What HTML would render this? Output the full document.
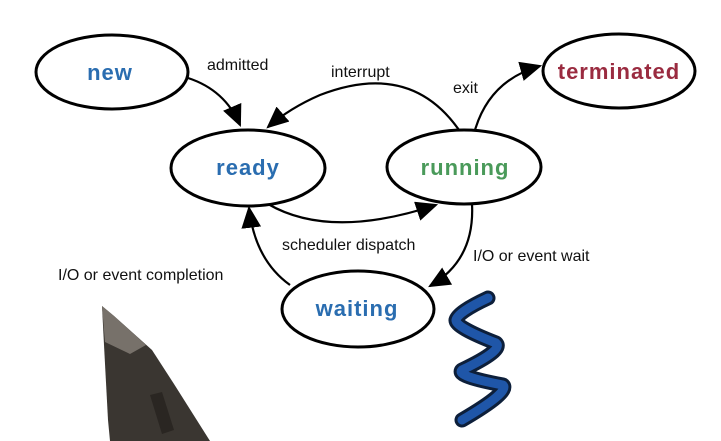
<!DOCTYPE html>
<html><head><style>
body{margin:0;background:#fff;}
svg{display:block;}
text{font-family:"Liberation Sans",sans-serif;}
</style></head><body>
<svg width="721" height="441" viewBox="0 0 721 441" xmlns="http://www.w3.org/2000/svg">
<defs>
<marker id="a" markerWidth="10" markerHeight="9" refX="9" refY="4.5" orient="auto" markerUnits="strokeWidth">
<path d="M0,0 L10,4.5 L0,9 z" fill="#000"/>
</marker>
</defs>
<rect width="721" height="441" fill="#fff"/>
<path d="M102,306 L114,316 L152,350 L174,384 L210,441 L110,441 L108,420 L104,345 Z" fill="#3a3631"/>
<path d="M102,306 L114,316 L146,345 L130,354 L105,342 Z" fill="#77716a"/>
<path d="M150,395 L162,392 L174,430 L162,434 Z" fill="#2a2622"/>
<g fill="none" stroke-linecap="round" stroke-linejoin="round">
<path d="M488,298 Q458,312 456,320 Q455,327 496,343 Q504,350 462,370 Q455,376 503,385 Q510,392 462,420" stroke="#0d1f3a" stroke-width="15"/>
<path d="M488,298 Q458,312 456,320 Q455,327 496,343 Q504,350 462,370 Q455,376 503,385 Q510,392 462,420" stroke="#1f56a8" stroke-width="9"/>
</g>
<g fill="none" stroke="#000" stroke-width="2.2">
<path d="M188,78 Q225,90 240,125" marker-end="url(#a)"/>
<path d="M459,130 Q410,60 320,95 Q290,108 268,127" marker-end="url(#a)"/>
<path d="M475,130 Q490,80 540,66" marker-end="url(#a)"/>
<path d="M268,204 Q330,240 436,205" marker-end="url(#a)"/>
<path d="M472,204 Q475,260 430,286" marker-end="url(#a)"/>
<path d="M290,285 Q255,260 249,208" marker-end="url(#a)"/>
</g>
<g fill="#fff" stroke="#000" stroke-width="3">
<ellipse cx="112" cy="72" rx="76" ry="37"/>
<ellipse cx="248" cy="168" rx="77" ry="38"/>
<ellipse cx="464" cy="167" rx="77" ry="37"/>
<ellipse cx="619" cy="71" rx="76" ry="37"/>
<ellipse cx="358" cy="309" rx="76" ry="38"/>
</g>
<g font-weight="bold" font-size="22" text-anchor="middle" letter-spacing="1">
<text x="110" y="80" fill="#2a6db0">new</text>
<text x="248" y="175" fill="#2a6db0">ready</text>
<text x="465" y="175" fill="#4a9a5a">running</text>
<text x="619" y="79" fill="#9a2b40">terminated</text>
<text x="357" y="316" fill="#2a6db0">waiting</text>
</g>
<g font-size="16" fill="#111">
<text x="207" y="70">admitted</text>
<text x="331" y="77">interrupt</text>
<text x="453" y="93">exit</text>
<text x="282" y="250">scheduler dispatch</text>
<text x="473" y="261">I/O or event wait</text>
<text x="58" y="280">I/O or event completion</text>
</g>
</svg>
</body></html>
